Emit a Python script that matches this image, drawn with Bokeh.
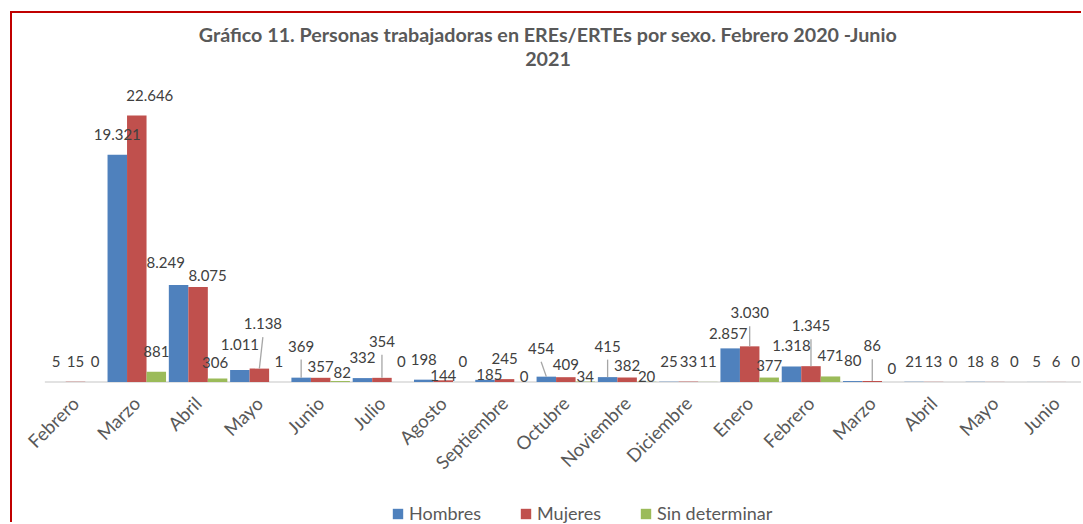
import math
from bokeh.plotting import figure
from bokeh.models import ColumnDataSource, Range1d, FixedTicker, Legend, LegendItem, Title
from bokeh.core.properties import value
from bokeh.embed import file_html
from bokeh.resources import INLINE

# ---------------- data ----------------
months = ["Febrero", "Marzo", "Abril", "Mayo", "Junio", "Julio", "Agosto",
          "Septiembre", "Octubre", "Noviembre", "Diciembre", "Enero",
          "Febrero", "Marzo", "Abril", "Mayo", "Junio"]
hombres = [5, 19321, 8249, 1011, 369, 332, 198, 185, 454, 415, 25, 2857, 1318, 80, 21, 18, 5]
mujeres = [15, 22646, 8075, 1138, 357, 354, 144, 245, 409, 382, 33, 3030, 1345, 86, 13, 8, 6]
sin_determinar = [0, 881, 306, 1, 82, 0, 0, 0, 34, 20, 11, 377, 471, 0, 0, 0, 0]
series_names = ["Hombres", "Mujeres", "Sin determinar"]
title_line1 = "Gráfico 11. Personas trabajadoras en EREs/ERTEs por sexo. Febrero 2020 -Junio"
title_line2 = "2021"

# ---------------- styles / label placement (pixels) ----------------
colors = ["#4F81BD", "#C0504D", "#9BBB59"]
h_dx = [0, 0, -12.8, 0, 0, 0, 0, 4.3, -5.2, 0, 0, -2, 0, 0, 0, 0, 0]
h_dy = [0, 0, -2, -5, -11, 0, 0, 15.4, -7.7, -10.3, 0, 5.6, 0, 0, 0, 0, 0]
h_lead = [0, 0, 0, 0, 1, 0, 0, 0, 1, 1, 0, 0, 0, 0, 0, 0, 0]
m_dx = [0, 13, 9.5, 3.5, 0, 0, 0, 0, 0, 0, 0, 0, 0, 0, 0, 0, 0]
m_dy = [0, 0, 9.3, -24.3, 9, -16, 15.4, 0, 8.3, 8.5, 0, -13, -19.7, -14.5, 0, 0, 0]
m_lead = [0, 0, 0, 1, 0, 1, 0, 0, 0, 0, 0, 1, 1, 1, 0, 0, 0]
s_dx = [0, 0, -2.5, 0, 2, 0, 0, 0, 0, 0, 0, 0, 0, 0, 0, 0, 0]
s_dy = [0, 0, 5, 0, 11.5, 0, 0, 15, 15.6, 15.4, 0, 8, 0, 6.5, 0, 0, 0]
s_lead = [0] * 17

MARGIN_TOP, MARGIN_LEFT, BORDER_PX = 11, 10, 2
CANVAS_LEFT = MARGIN_LEFT + BORDER_PX        # page x of canvas
CANVAS_TOP = MARGIN_TOP + BORDER_PX          # page y of canvas
W, H = 1083 - CANVAS_LEFT, 524 - CANVAS_TOP
BASELINE_PAGE_Y = 381.5
BORDER_TOP = 53
PX_X = 61.29                 # pixels per category
PX_Y = 266.5 / 22646.0       # pixels per unit
FIRST_CENTER = 75.0          # page x of first category centre
BAR_STEP = 19.5 / PX_X
LABEL_UP = 20.5
LEAD_GAP = 13.3
LEGEND_X = 391 - CANVAS_LEFT

frame_h = H - BORDER_TOP
y0 = -(524 - BASELINE_PAGE_Y) / PX_Y
x0 = (CANVAS_LEFT - FIRST_CENTER) / PX_X

p = figure(width=W, height=H, output_backend="svg", toolbar_location=None,
           x_range=Range1d(x0, x0 + W / PX_X),
           y_range=Range1d(y0, y0 + frame_h / PX_Y),
           y_axis_location=None,
           min_border_left=0, min_border_right=0,
           min_border_top=BORDER_TOP, min_border_bottom=0)
p.margin = (MARGIN_TOP, 0, 0, MARGIN_LEFT)
p.styles = {"border-left": f"{BORDER_PX}px solid #C00000",
            "border-top": f"{BORDER_PX}px solid #C00000"}
p.outline_line_color = None
p.xgrid.visible = False
p.ygrid.visible = False
p.background_fill_color = "white"
p.border_fill_color = "white"

for txt, so in ((title_line2, 2), (title_line1, 5)):
    p.add_layout(Title(text=txt, align="center", text_font="Lato", text_font_style="bold",
                       text_font_size="19.7px", text_color="#595959", standoff=so), "above")

# baseline
p.segment(x0=[-0.5], y0=[0], x1=[len(months) + 0.5], y1=[0],
          line_color="#D9D9D9", line_width=1.5)

fmt = lambda v: f"{v:,}".replace(",", ".")
legend_items = []
all_series = [(hombres, h_dx, h_dy, h_lead), (mujeres, m_dx, m_dy, m_lead),
              (sin_determinar, s_dx, s_dy, s_lead)]
sources = []
for k, (vals, dx, dy, lead) in enumerate(all_series):
    xs = [i + (k - 1) * BAR_STEP for i in range(len(months))]
    src = ColumnDataSource(dict(x=xs, top=vals, text=[fmt(v) for v in vals],
                                xo=dx, yo=[-LABEL_UP + d for d in dy]))
    sources.append(src)
    r = p.vbar(x="x", top="top", bottom=0, width=BAR_STEP, source=src,
               fill_color=colors[k], line_color=None)
    legend_items.append(LegendItem(label=series_names[k], renderers=[r]))

for k, (vals, dx, dy, lead) in enumerate(all_series):
    xs = sources[k].data["x"]
    lx0, ly0, lx1, ly1 = [], [], [], []
    for i, v in enumerate(vals):
        if lead[i]:
            lx0.append(xs[i]); ly0.append(v)
            lx1.append(xs[i] + dx[i] / PX_X)
            ly1.append(v + (LABEL_UP - dy[i] - LEAD_GAP) / PX_Y)
    if lx0:
        p.segment(x0=lx0, y0=ly0, x1=lx1, y1=ly1, line_color="#A6A6A6", line_width=1.3)

for src in sources:
    p.text(x="x", y="top", text="text", x_offset="xo", y_offset="yo", source=src,
           text_align="center", text_baseline="middle",
           text_font=value("Lato"), text_font_size="15px", text_color="#404040")

ax = p.xaxis[0]
ax.fixed_location = 0
ax.ticker = FixedTicker(ticks=list(range(len(months))))
ax.major_label_overrides = {i: m for i, m in enumerate(months)}
ax.major_label_orientation = math.pi / 4
ax.axis_line_color = None
ax.major_tick_line_color = None
ax.minor_tick_line_color = None
ax.major_label_text_font = "Lato"
ax.major_label_text_font_size = "18.5px"
ax.major_label_text_color = "#595959"
ax.major_label_standoff = 12

legend = Legend(items=legend_items, orientation="horizontal", location=(LEGEND_X, 0),
                border_line_color=None, background_fill_alpha=0,
                label_text_font="Lato", label_text_font_size="18px",
                label_text_color="#595959", glyph_width=13, glyph_height=13,
                spacing=38, label_standoff=5, padding=0, margin=0)
p.add_layout(legend)

open("out.html", "w").write(file_html(p, INLINE))
